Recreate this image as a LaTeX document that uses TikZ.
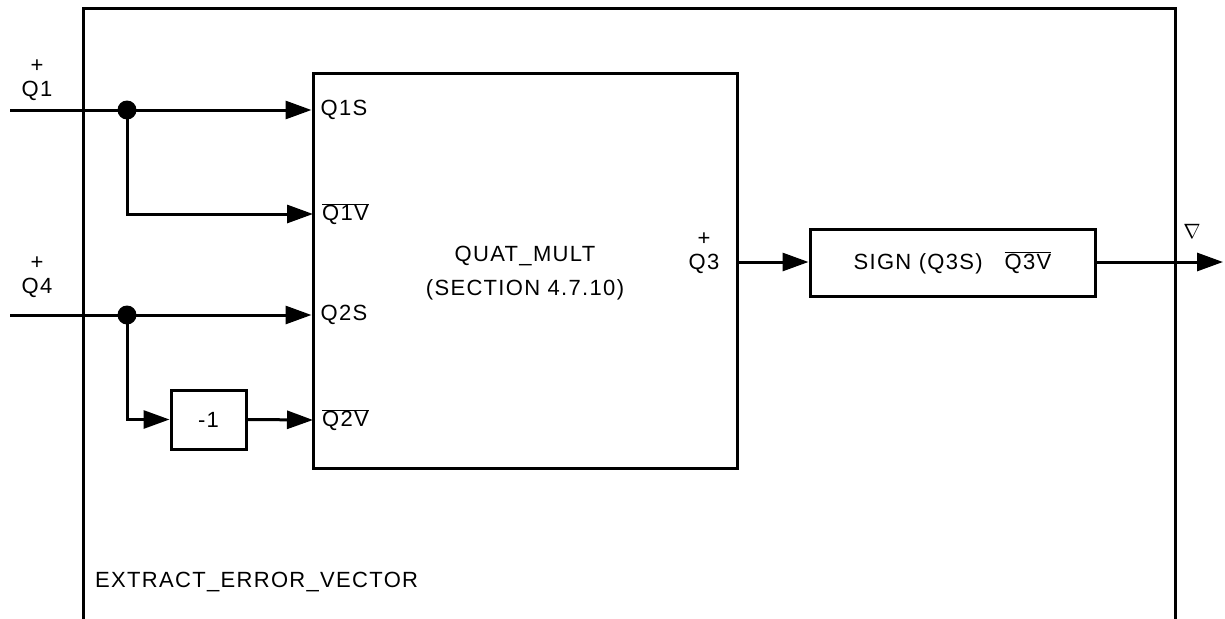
\documentclass[tikz,border=0pt]{standalone}
\usepackage{fontspec}
\setmainfont[LetterSpace=6]{Liberation Sans}
\usetikzlibrary{arrows.meta, positioning}
\tikzset{
  blockbox/.style={draw, line width=3pt, inner sep=0pt},
  portlabel/.style={anchor=west, inner sep=0pt, xshift=9pt},
  wire/.style={line width=3pt},
  flow/.style={wire, -{Triangle[length=26pt,width=18pt]}}
}
\newcommand{\barlabel}[1]{$\overline{\mbox{#1}}$}

\begin{document}
\begin{tikzpicture}[x=1pt, y=-1pt, font=\fontsize{22}{24}\selectfont]
  \useasboundingbox (0,0) rectangle (1225,618);
  % outer frame (open at the bottom)
  \draw[wire] (83,620) -- (83,9) -- (1175,9) -- (1175,620);
  \node[anchor=west, inner sep=0pt] (frametitle) at (95,582) {EXTRACT\_ERROR\_VECTOR};

  % blocks
  \node[blockbox, minimum width=424pt, minimum height=395pt] (mult) at (525,270.5) {};
  \node[align=center] (multname) at (525,273) {QUAT\_MULT\\[10pt](SECTION 4.7.10)};
  \node[blockbox, minimum width=75pt, minimum height=59pt] (neg) at (208.5,419.5) {-1};
  \node[blockbox, minimum width=285pt, minimum height=67pt] (sign) at (952.5,263)
    {SIGN (Q3S)\quad\barlabel{Q3V}};

  % inputs
  \coordinate (q1in) at (10,110);
  \coordinate (q4in) at (10,315);
  \coordinate (q1dot) at (127,110);
  \coordinate (q4dot) at (127,315);
  \coordinate (q1vport) at (313,214);
  \coordinate (q2vport) at (313,420);
  \node[align=center] (q1name) at (37,80) {+\\Q1};
  \node[align=center] (q4name) at (37,277) {+\\Q4};

  \draw[flow] (q1in) -- (q1in -| mult.west);
  \draw[flow] (q1dot) |- (q1vport);
  \draw[flow] (q4in) -- (q4in -| mult.west);
  \draw[flow] (q4dot) |- (neg.west);
  \draw[flow] (neg.east) -- (q2vport);
  \foreach \d in {q1dot, q4dot}
    \fill (\d) circle (9.5);

  % port names
  \node[portlabel] (q1s) at (q1in -| mult.west) {Q1S};
  \node[portlabel] (q1v) at (q1vport) {\barlabel{Q1V}};
  \node[portlabel] (q2s) at (q4in -| mult.west) {Q2S};
  \node[portlabel] (q2v) at (q2vport) {\barlabel{Q2V}};
  \node[align=center] (q3name) at (704,253) {+\\Q3};

  % output
  \coordinate (out) at (1223,262);
  \draw[flow] (mult.east |- out) -- (sign.west |- out);
  \draw[flow] (sign.east |- out) -- (out);
  \node (grad) at (1192,231) {$\nabla$};
\end{tikzpicture}
\end{document}
